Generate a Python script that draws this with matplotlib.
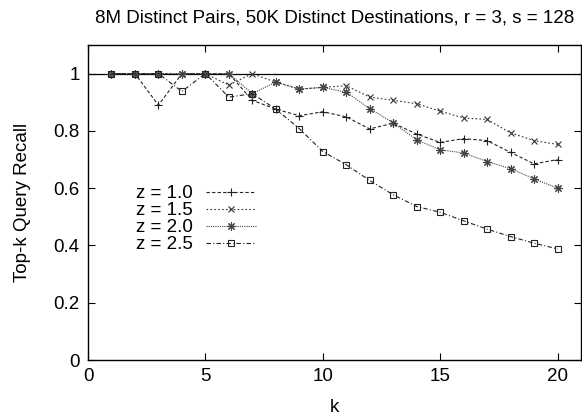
import numpy as np
import matplotlib
matplotlib.use("Agg")
import matplotlib.pyplot as plt

plt.rcParams["font.family"] = ["Liberation Sans", "DejaVu Sans"]

# ── Data ───────────────────────────────────────────────────────────────────
k = np.arange(1, 21)
z10 = [1, 1, 0.89, 1, 1, 1, 0.907, 0.876, 0.853, 0.867, 0.849, 0.807, 0.827,
       0.789, 0.760, 0.773, 0.766, 0.725, 0.685, 0.700]
z15 = [1, 1, 1, 1, 1, 0.96, 1.0, 0.97, 0.946, 0.952, 0.958, 0.918, 0.907,
       0.895, 0.869, 0.845, 0.840, 0.793, 0.766, 0.753]
z20 = [1, 1, 1, 1, 1, 1, 0.93, 0.971, 0.946, 0.952, 0.935, 0.878, 0.828,
       0.769, 0.734, 0.723, 0.693, 0.668, 0.633, 0.600]
z25 = [1, 1, 1, 0.938, 1, 0.918, 0.930, 0.876, 0.808, 0.728, 0.682, 0.627,
       0.577, 0.536, 0.516, 0.486, 0.457, 0.431, 0.408, 0.388]
labels = ["z = 1.0", "z = 1.5", "z = 2.0", "z = 2.5"]

FS = 13.5

fig = plt.figure(figsize=(5.82, 4.19), dpi=100)
ax = fig.add_axes([88 / 582, 1 - 360 / 419, 493 / 582, 315 / 419])

ax.axhline(1.0, color="black", linewidth=0.9)

styles = [
    dict(linestyle=(0, (3, 2)), marker="+", ms=6, color="#222222"),
    dict(linestyle=(0, (1.5, 2)), marker="x", ms=5, color="#333333"),
    dict(linestyle=(0, (1, 1)), marker=(8, 2, 0), ms=6, color="#444444"),
    dict(linestyle=(0, (4, 2, 1, 2)), marker="s", ms=5, mfc="none",
         color="#222222"),
]
for ys, lab, st in zip([z10, z15, z20, z25], labels, styles):
    ax.plot(k, ys, linewidth=0.8, mew=0.8, label=lab, **st)

ax.set_xlim(0, 21)
ax.set_ylim(0, 1.1)
ax.set_xticks([0, 5, 10, 15, 20])
ax.set_yticks([0, 0.2, 0.4, 0.6, 0.8, 1])
ax.set_yticklabels(["0", "0.2", "0.4", "0.6", "0.8", "1"])
ax.tick_params(direction="in", length=5, width=0.8, top=True, right=True,
               labelsize=FS, pad=6)
for sp in ax.spines.values():
    sp.set_linewidth(1.0)

ax.set_xlabel("k", fontsize=FS, labelpad=10)
ax.set_ylabel("Top-k Query Recall", fontsize=FS, labelpad=16)
ax.set_title("8M Distinct Pairs, 50K Distinct Destinations, r = 3, s = 128",
             fontsize=FS, pad=16)

leg = ax.legend(loc="center right", bbox_to_anchor=(0.376, 0.447),
                frameon=False, markerfirst=False, fontsize=FS,
                handlelength=2.7, labelspacing=0.0, handletextpad=0.7)

fig.savefig("out.png", dpi=100)
